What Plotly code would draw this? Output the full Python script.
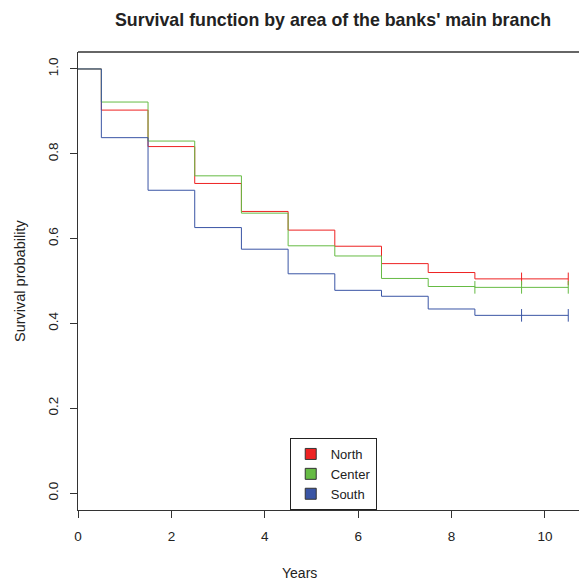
import plotly.graph_objects as go

# ---- data ----
times = [0, 0.5, 1.5, 2.5, 3.5, 4.5, 5.5, 6.5, 7.5, 8.5, 10.5]
north = [1.0, 0.903, 0.817, 0.730, 0.664, 0.620, 0.582, 0.541, 0.520, 0.505, 0.505]
center = [1.0, 0.922, 0.830, 0.748, 0.660, 0.583, 0.559, 0.506, 0.487, 0.485, 0.485]
south = [1.0, 0.838, 0.714, 0.626, 0.575, 0.517, 0.478, 0.464, 0.434, 0.419, 0.419]
north_cens = [9.5, 10.5]
center_cens = [8.5, 9.5, 10.5]
south_cens = [9.5, 10.5]
groups = ["North", "Center", "South"]
colors = ["#ee2222", "#66bb44", "#3a55a5"]

series = [north, center, south]
cens = [north_cens, center_cens, south_cens]

fig = go.Figure()
for name, ys, cx, col in zip(groups, series, cens, colors):
    fig.add_trace(go.Scatter(x=times, y=ys, mode="lines", line=dict(color=col, width=1, shape="hv"),
                             showlegend=False, hoverinfo="skip"))
    cy = [ys[-1]] * len(cx)
    fig.add_trace(go.Scatter(x=cx, y=cy, mode="markers",
                             marker=dict(symbol="line-ns", size=9, line=dict(color=col, width=1)),
                             showlegend=False, hoverinfo="skip"))
for name, col in zip(groups, colors):
    fig.add_trace(go.Scatter(x=[None], y=[None], mode="markers", name=name,
                             marker=dict(symbol="square", size=11, color=col,
                                         line=dict(color="#333333", width=1))))

fig.update_layout(
    width=579, height=581,
    margin=dict(l=78, r=0, t=52, b=71),
    paper_bgcolor="white", plot_bgcolor="white",
    font=dict(family="Liberation Sans, Arial, sans-serif", size=13.5, color="#222222"),
    showlegend=True,
    legend=dict(x=0.4226, y=0, xanchor="left", yanchor="bottom",
                bgcolor="white", bordercolor="#222222", borderwidth=1,
                font=dict(size=13), tracegroupgap=0, itemwidth=30),
    annotations=[
        dict(text="<b>Survival function by area of the banks' main branch</b>", xref="paper", yref="paper",
             x=0.509, y=1, xanchor="center", yanchor="middle", yshift=32, showarrow=False,
             font=dict(size=17.8, color="#222222")),
        dict(text="Years", xref="paper", yref="paper", x=0.443, y=0, yanchor="middle",
             yshift=-63, showarrow=False, font=dict(size=14)),
        dict(text="Survival probability", xref="paper", yref="paper", x=0, y=0.5, xanchor="center",
             xshift=-58, textangle=-90, showarrow=False, font=dict(size=14.5)),
    ],
    shapes=[dict(type="line", xref="paper", yref="paper", x0=0, x1=1, y0=1, y1=1,
                 line=dict(color="#333333", width=1.3))],
)
fig.update_xaxes(range=[0, 10.73], tickvals=[0, 2, 4, 6, 8, 10], ticks="outside", ticklen=7,
                 showline=True, linecolor="#333333", linewidth=1.3, tickcolor="#333333",
                 showgrid=False, zeroline=False, ticklabelstandoff=7)
fig.update_yaxes(range=[-0.04, 1.04], tickvals=[0, 0.2, 0.4, 0.6, 0.8, 1.0],
                 ticktext=["0.0", "0.2", "0.4", "0.6", "0.8", "1.0"], tickangle=-90,
                 ticks="outside", ticklen=7, showline=True, linecolor="#333333", linewidth=1.3,
                 tickcolor="#333333", showgrid=False, zeroline=False, ticklabelstandoff=6)

fig.write_html("out.html")
